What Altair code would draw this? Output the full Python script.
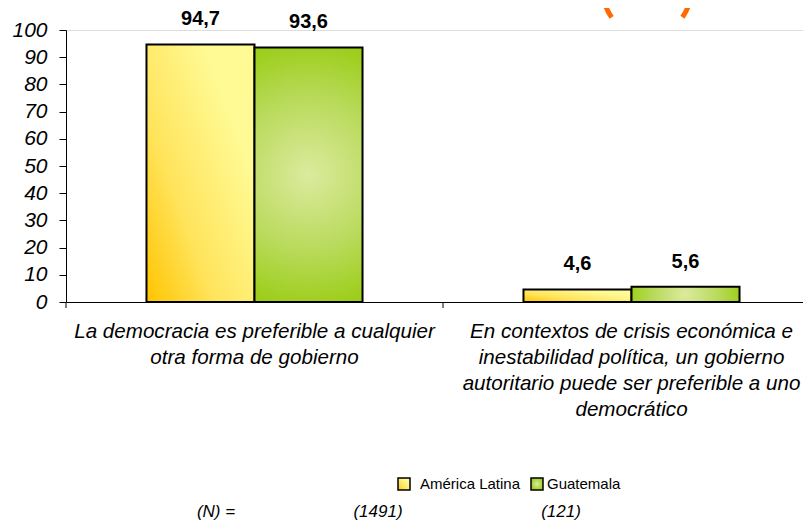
import altair as alt
import pandas as pd

categories = [
    "La democracia es preferible a cualquier|otra forma de gobierno",
    "En contextos de crisis económica e|inestabilidad política, un gobierno|autoritario puede ser preferible a uno|democrático",
]
series = ["América Latina", "Guatemala"]
values_al = [94.7, 4.6]
values_gt = [93.6, 5.6]
n_labels = ["(N) =", "(1491)", "(121)"]
y_ticks = [0, 10, 20, 30, 40, 50, 60, 70, 80, 90, 100]

rows = []
for i, c in enumerate(categories):
    rows.append({"cat": c, "series": series[0], "value": values_al[i]})
    rows.append({"cat": c, "series": series[1], "value": values_gt[i]})
df = pd.DataFrame(rows)
df["label"] = df["value"].map(lambda v: f"{v:.1f}".replace(".", ","))

FONT = "Liberation Sans"

yellow_grad = {
    "gradient": "linear", "x1": 0, "y1": 1, "x2": 0.8, "y2": 0.3,
    "stops": [
        {"offset": 0, "color": "#FFC400"},
        {"offset": 0.45, "color": "#FFE45C"},
        {"offset": 1, "color": "#FFFA94"},
    ],
}
green_grad = {
    "gradient": "radial", "x1": 0.5, "y1": 0.5, "x2": 0.5, "y2": 0.5, "r1": 0, "r2": 0.55,
    "stops": [
        {"offset": 0, "color": "#DCEA9E"},
        {"offset": 0.55, "color": "#B8DA5A"},
        {"offset": 1, "color": "#99CC11"},
    ],
}

x_axis = alt.Axis(
    title=None, ticks=False, labelAngle=0, labelAlign="center", labelBaseline="top",
    labelExpr="split(datum.label, '|')", labelLineHeight=26, labelPadding=19,
    labelFont=FONT, labelFontStyle="italic", labelFontSize=20.6, labelColor="black",
    labelLimit=500, domainColor="black",
)
x_scale = alt.Scale(domain=categories, paddingInner=0, paddingOuter=0)
y_axis = alt.Axis(
    title=None, values=y_ticks, grid=False, tickSize=7, tickColor="black",
    labelFont=FONT, labelFontStyle="italic", labelFontSize=21, labelColor="black",
    labelPadding=12, domainColor="black",
)
y_scale = alt.Scale(domain=[0, 100], nice=False)
xo_scale = alt.Scale(domain=series, paddingInner=0, paddingOuter=0.745)

X = alt.X("cat:N", sort=categories, scale=x_scale, axis=x_axis)
Y = alt.Y("value:Q", scale=y_scale, axis=y_axis)
XO = alt.XOffset("series:N", sort=series, scale=xo_scale)

base = alt.Chart(df)

bars_al = base.transform_filter(alt.datum.series == series[0]).mark_bar(
    color=yellow_grad, stroke="black", strokeWidth=2
).encode(x=X, y=Y, xOffset=XO)

bars_gt = base.transform_filter(alt.datum.series == series[1]).mark_bar(
    color=green_grad, stroke="black", strokeWidth=2
).encode(x=X, y=Y, xOffset=XO)

labels = base.mark_text(
    font=FONT, fontWeight="bold", fontSize=20, baseline="bottom", dy=-15, color="black"
).encode(x=X, y=Y, xOffset=XO, text="label:N")

ticks = alt.Chart(pd.DataFrame({"cat": categories})).mark_rule(
    color="black", strokeWidth=1
).encode(
    x=alt.X("cat:N", sort=categories, scale=x_scale, axis=x_axis, bandPosition=0),
    y=alt.value(272), y2=alt.value(278),
)

leg_al_box = alt.Chart(pd.DataFrame({"s": [series[0]]})).mark_rect(
    color=yellow_grad, stroke="black", strokeWidth=1.5
).encode(x=alt.value(332), x2=alt.value(344), y=alt.value(448), y2=alt.value(460))
leg_al_txt = alt.Chart(pd.DataFrame({"s": [series[0]]})).mark_text(
    font=FONT, fontSize=15, align="left", baseline="middle", color="black"
).encode(x=alt.value(354), y=alt.value(454), text="s:N")
leg_gt_box = alt.Chart(pd.DataFrame({"s": [series[1]]})).mark_rect(
    color=green_grad, stroke="black", strokeWidth=1.5
).encode(x=alt.value(465), x2=alt.value(477), y=alt.value(448), y2=alt.value(460))
leg_gt_txt = alt.Chart(pd.DataFrame({"s": [series[1]]})).mark_text(
    font=FONT, fontSize=15, align="left", baseline="middle", color="black"
).encode(x=alt.value(481), y=alt.value(454), text="s:N")

n_layers = []
for lab, xpos in zip(n_labels, [150, 312, 495]):
    n_layers.append(
        alt.Chart(pd.DataFrame({"t": [lab]})).mark_text(
            font=FONT, fontSize=17, fontStyle="italic", align="center",
            baseline="middle", color="black"
        ).encode(x=alt.value(xpos), y=alt.value(482), text="t:N")
    )

logo_l = alt.Chart(pd.DataFrame({"a": [0]})).mark_arc(color="#FF6A00").encode(
    x=alt.value(581), y=alt.value(-38), theta=alt.value(4.09), theta2=alt.value(4.71),
    radius=alt.value(46), radius2=alt.value(41),
)
logo_r = alt.Chart(pd.DataFrame({"a": [0]})).mark_arc(color="#FF6A00").encode(
    x=alt.value(581), y=alt.value(-38), theta=alt.value(1.571), theta2=alt.value(2.19),
    radius=alt.value(46), radius2=alt.value(41),
)

chart = alt.layer(
    bars_al, bars_gt, labels, ticks,
    leg_al_box, leg_al_txt, leg_gt_box, leg_gt_txt,
    *n_layers, logo_l, logo_r,
).properties(
    width=754, height=272,
    autosize=alt.AutoSizeParams(type="none"),
    padding={"left": 58, "top": 22, "right": -17, "bottom": 219},
).configure_view(stroke=None).configure(background="white")

chart.save("out.html", embed_options={"renderer": "svg", "actions": False})
